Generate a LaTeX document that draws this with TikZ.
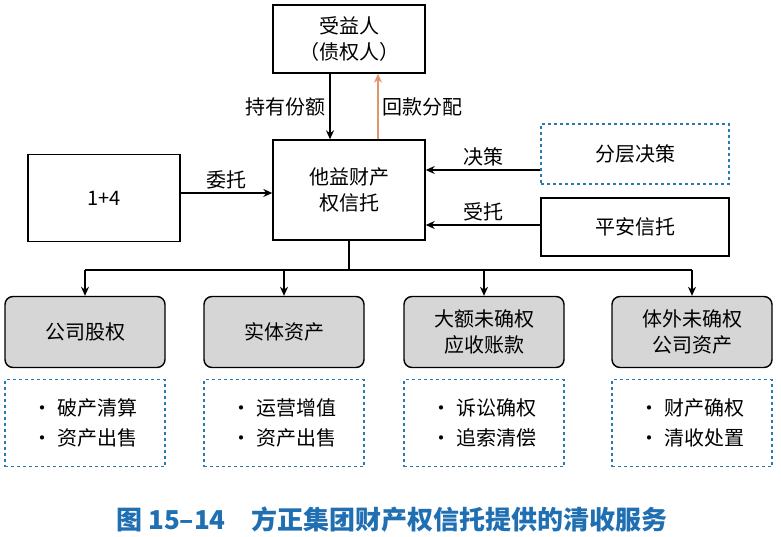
\documentclass[tikz,border=0pt]{standalone}
\usepackage{fontspec}
\setmainfont{Noto Sans CJK SC}
\usetikzlibrary{positioning,arrows.meta}
\definecolor{dashblue}{HTML}{2A7AB0}
\definecolor{capblue}{HTML}{1F6FB2}
\definecolor{arrorange}{HTML}{E0956A}
\definecolor{boxgray}{HTML}{D6D6D6}
\tikzset{
  box/.style={draw, line width=1.4pt, minimum width=152pt, align=center, font=\fontsize{20}{26}\selectfont},
  dbox/.style={draw=dashblue, line width=1.4pt, dashed, minimum width=160pt, minimum height=87pt, align=left, font=\fontsize{20}{30}\selectfont},
  gbox/.style={draw, line width=1.4pt, fill=boxgray, rounded corners=8pt, minimum width=160pt, minimum height=71pt, align=center, font=\fontsize{20}{26}\selectfont},
  arr/.style={-{Stealth[length=9pt,width=8pt]}, line width=1.4pt},
  lab/.style={font=\fontsize{20}{24}\selectfont}
}
\begin{document}
\begin{tikzpicture}[x=1pt, y=-1pt]
\useasboundingbox (0,0) rectangle (781,537);
\node[box, minimum height=68pt] (benef) at (349,39) {受益人\\（债权人）};
\node[box, minimum height=100pt] (trust) at (349,190) {他益财产\\权信托};
\node[box, minimum height=87pt] (client) at (104,198) {1+4};
\node[box, draw=dashblue, dashed, minimum width=188pt, minimum height=60pt] (layer) at (635,154) {分层决策};
\node[box, minimum width=188pt, minimum height=58pt] (pingan) at (635,227) {平安信托};

\draw[arr] (benef.south -| 330,0) -- (trust.north -| 330,0) node[lab, midway, left] {持有份额};
\draw[arr, arrorange] (trust.north -| 378,0) -- (benef.south -| 378,0) node[lab, midway, right, black] {回款分配};
\draw[arr] (client.east |- 0,193) -- (trust.west |- 0,193) node[lab, midway, above] {委托};
\draw[arr] (layer.west |- 0,170) -- (trust.east |- 0,170) node[lab, midway, above] {决策};
\draw[arr] (pingan.west |- 0,225) -- (trust.east |- 0,225) node[lab, midway, above] {受托};

\node[gbox] (equity) at (85,332) {公司股权};
\node[gbox] (entity) at (284,332) {实体资产};
\node[gbox] (receiv) at (484,332) {大额未确权\\应收账款};
\node[gbox] (offbook) at (692,332) {体外未确权\\公司资产};
\node[dbox] (d1) at (85,423) {• 破产清算\\• 资产出售};
\node[dbox] (d2) at (284,423) {• 运营增值\\• 资产出售};
\node[dbox] (d3) at (484,423) {• 诉讼确权\\• 追索清偿};
\node[dbox] (d4) at (692,423) {• 财产确权\\• 清收处置};

\coordinate (bus) at (349,270);
\draw[line width=1.4pt] (trust.south) -- (bus);
\draw[line width=1.4pt] (equity.north |- bus) -- (offbook.north |- bus);
\foreach \n in {equity, entity, receiv, offbook}
  \draw[arr] (\n.north |- bus) -- (\n.north);

\node[font=\bfseries\fontsize{26}{30}\selectfont, text=capblue] (caption) at (392,520) {图 15–14\quad 方正集团财产权信托提供的清收服务};
\end{tikzpicture}
\end{document}
